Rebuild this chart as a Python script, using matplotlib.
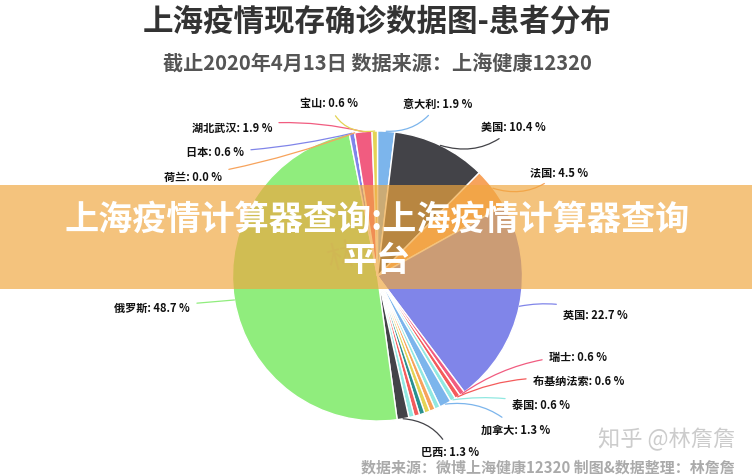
import matplotlib
matplotlib.use("Agg")
import matplotlib.pyplot as plt
import numpy as np
from matplotlib.patches import Rectangle

plt.rcParams['font.family'] = ['Noto Sans CJK SC', 'DejaVu Sans']

# ---- data (clockwise from 12 o'clock) ----
categories = ['意大利', '美国', '法国', '英国', '瑞士', '布基纳法索', '泰国', '加拿大',
              '其他1', '其他2', '其他3', '其他4', '其他5', '其他6',
              '巴西', '俄罗斯', '日本', '荷兰', '湖北武汉', '宝山']
percent = [1.9, 10.4, 4.5, 22.7, 0.6, 0.6, 0.6, 1.3,
           0.6, 0.6, 0.6, 0.6, 0.6, 0.6,
           1.3, 48.7, 0.6, 0.0, 1.9, 0.6]
show_label = [True, True, True, True, True, True, True, True,
              False, False, False, False, False, False,
              True, True, True, True, True, True]
colors = ['#7cb5ec', '#434348', '#f7a35c', '#8085e9', '#f15c80', '#f45b5b', '#91e8e1', '#7cb5ec',
          '#91e8e1', '#f7a35c', '#e4d354', '#2b908f', '#f45b5b', '#91e8e1',
          '#434348', '#90ed7d', '#8085e9', '#f7a35c', '#f15c80', '#e4d354']

title = '上海疫情现存确诊数据图-患者分布'
subtitle = '截止2020年4月13日 数据来源：上海健康12320'
source = '数据来源：微博上海健康12320 制图&数据整理：林詹詹'
banner = '上海疫情计算器查询:上海疫情计算器查询\n平台'
watermark = '知乎 @林詹詹'

# ---- layout (pixel positions of label text anchors) ----
W, H = 752, 477
label_pos = {
    '意大利': (403, 104, 'left'), '美国': (481, 128, 'left'), '法国': (530, 173, 'left'),
    '英国': (563, 315, 'left'), '瑞士': (549, 357, 'left'), '布基纳法索': (533, 382, 'left'),
    '泰国': (512, 406, 'left'), '加拿大': (481, 430, 'left'), '巴西': (421, 453, 'left'),
    '俄罗斯': (190, 308, 'right'), '日本': (244, 153, 'right'), '荷兰': (222, 177, 'right'),
    '湖北武汉': (272, 128, 'right'), '宝山': (358, 104, 'right'),
}
rads = {
    '意大利': -0.3, '美国': -0.3, '法国': -0.3, '英国': 0.15, '瑞士': 0.15, '布基纳法索': 0.15,
    '泰国': 0.1, '加拿大': 0.25, '巴西': 0.3, '俄罗斯': 0.0, '日本': 0.05, '荷兰': 0.05,
    '湖北武汉': -0.1, '宝山': 0.4,
}

def fx(x):
    return x / W

def fy(y):
    return 1 - y / H

fig = plt.figure(figsize=(7.52, 4.77), dpi=100)
fig.patch.set_facecolor('white')

cx, cy, r = 377.5, 277, 145
ax = fig.add_axes([fx(cx - r), fy(cy + r), 2 * r / W, 2 * r / H])
wedges, _ = ax.pie(percent, colors=colors, startangle=90, counterclock=False,
                   wedgeprops=dict(edgecolor='white', linewidth=1.0), normalize=True)
ax.set_xlim(-1, 1)
ax.set_ylim(-1, 1)
ax.set_aspect('equal')
ax.axis('off')

for w, name, val, col, show in zip(wedges, categories, percent, colors, show_label):
    if not show:
        continue
    mid = np.deg2rad((w.theta1 + w.theta2) / 2)
    px, py, ha = label_pos[name]
    ax.annotate(f'{name}: {val:.1f} %', xy=(np.cos(mid), np.sin(mid)),
                xytext=(fx(px), fy(py)), textcoords='figure fraction',
                ha=ha, va='center', fontsize=8, fontweight='bold', color='#111111',
                arrowprops=dict(arrowstyle='-', color=col, lw=0.9, shrinkA=3, shrinkB=0,
                                connectionstyle=f'arc3,rad={rads[name]}'),
                annotation_clip=False)

# faint watermark inside the pie
fig.text(fx(342), fy(258), '林', ha='center', va='center', fontsize=22,
         color='#888888', alpha=0.18, rotation=15)

fig.text(fx(377), fy(22), title, ha='center', va='center', fontsize=22,
         fontweight='bold', color='#333333')
fig.text(fx(377), fy(63), subtitle, ha='center', va='center', fontsize=14.5,
         fontweight='bold', color='#555555')

fig.text(fx(735), fy(440), watermark, ha='right', va='center', fontsize=16,
         color='#cccccc')
fig.text(fx(735), fy(468), source, ha='right', va='center', fontsize=10.8,
         fontweight='bold', color='#aaaaaa')

# orange banner overlay
fig.patches.append(Rectangle((0, fy(290)), 1, 104 / H, transform=fig.transFigure,
                             facecolor='#f0a73f', alpha=0.68, edgecolor='none', zorder=10))
fig.text(fx(377), fy(240), banner, ha='center', va='center', fontsize=24.6,
         fontweight='bold', color='white', zorder=11, linespacing=1.25)

fig.savefig('out.png', dpi=100)
